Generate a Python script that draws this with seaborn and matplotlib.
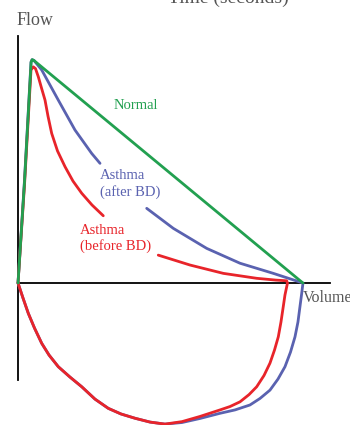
import pandas as pd
import seaborn as sns
import matplotlib.pyplot as plt

# Flow-volume loops (volume in litres, flow in L/s).
# 'part' splits a curve where the picture leaves it broken behind a label.
normal_vol = [0, 0.114, 0.23, 0.25, 0.28, 5.0]
normal_flow = [0, 4.5, 9.82, 9.93, 9.89, 0]

# shared inspiratory left half (both asthma loops), from the bottom back to 0
insp_left_vol = [2.579, 2.316, 2.053, 1.807, 1.584, 1.351, 1.118, 0.912, 0.707, 0.544, 0.416, 0.289, 0.181,
                 0.088, 0]
insp_left_flow = [-6.27, -6.18, -6.01, -5.82, -5.57, -5.16, -4.61, -4.18, -3.72, -3.2, -2.68, -2.0, -1.35,
                  -0.67, 0]

after_top_vol = [0, 0.114, 0.228, 0.246, 0.281, 0.416, 0.707, 1.0, 1.293, 1.439]
after_top_flow = [0, 4.58, 9.82, 9.93, 9.89, 9.47, 8.13, 6.8, 5.76, 5.32]
after_rest_vol = [2.258, 2.725, 3.311, 3.895, 4.479, 5.0,
                  4.974, 4.947, 4.912, 4.86, 4.781, 4.684, 4.561, 4.421, 4.246, 4.07, 3.807, 3.544, 3.193,
                  2.877]
after_rest_flow = [3.32, 2.43, 1.54, 0.88, 0.43, 0.0,
                   -0.53, -1.05, -1.73, -2.39, -3.07, -3.72, -4.27, -4.76, -5.13, -5.42, -5.64, -5.79, -6.02,
                   -6.2]

before_top_vol = [0, 0.114, 0.228, 0.268, 0.307, 0.356, 0.412, 0.474, 0.526, 0.591, 0.693, 0.825, 0.965,
                  1.118, 1.298, 1.496]
before_top_flow = [0, 4.36, 9.47, 9.61, 9.53, 9.17, 8.67, 8.13, 7.42, 6.65, 5.87, 5.17, 4.53,
                   3.99, 3.47, 2.99]
before_rest_vol = [2.461, 3.018, 3.602, 4.188, 4.526, 4.714, 4.728,
                   4.684, 4.654, 4.614, 4.567, 4.5, 4.421, 4.316, 4.188, 4.053, 3.895, 3.719, 3.544, 3.193,
                   2.877]
before_rest_flow = [1.24, 0.8, 0.43, 0.21, 0.13, 0.1, 0.0,
                    -0.53, -1.05, -1.73, -2.39, -2.98, -3.56, -4.11, -4.61, -4.96, -5.28, -5.49, -5.64, -5.93,
                    -6.16]

green = '#22a050'
blue = '#5a62b0'
red = '#e8242a'


def loop_frame(top_vol, top_flow, rest_vol, rest_flow):
    vol = top_vol + rest_vol + insp_left_vol
    flow = top_flow + rest_flow + insp_left_flow
    part = [0] * len(top_vol) + [1] * (len(rest_vol) + len(insp_left_vol))
    return pd.DataFrame({'vol': vol, 'flow': flow, 'part': part})


df_after = loop_frame(after_top_vol, after_top_flow, after_rest_vol, after_rest_flow)
df_before = loop_frame(before_top_vol, before_top_flow, before_rest_vol, before_rest_flow)
df_normal = pd.DataFrame({'vol': normal_vol, 'flow': normal_flow})

sns.set_style('white')
plt.rcParams['font.family'] = ['Liberation Serif', 'DejaVu Serif']

fig = plt.figure(figsize=(3.5, 4.25), dpi=100)
ax = fig.add_axes([0, 0, 1, 1])

sns.lineplot(data=df_after, x='vol', y='flow', units='part', sort=False, estimator=None,
             color=blue, lw=2.0, ax=ax, zorder=2)
sns.lineplot(data=df_before, x='vol', y='flow', units='part', sort=False, estimator=None,
             color=red, lw=2.0, ax=ax, zorder=3)
sns.lineplot(data=df_normal, x='vol', y='flow', sort=False, estimator=None,
             color=green, lw=2.0, ax=ax, zorder=4)

ax.set_xlim(-0.316, 5.825)
ax.set_ylim(-6.31, 12.58)
ax.set_xlabel('')
ax.set_ylabel('')
ax.set_xticks([])
ax.set_yticks([])

# axes through the origin
for s in ['top', 'right']:
    ax.spines[s].set_visible(False)
ax.spines['left'].set_position(('data', 0))
ax.spines['bottom'].set_position(('data', 0))
ax.spines['left'].set_bounds(-4.31, 10.98)
ax.spines['bottom'].set_bounds(0, 5.47)
for s in ['left', 'bottom']:
    ax.spines[s].set_color('black')
    ax.spines[s].set_linewidth(1.3)
    ax.spines[s].set_zorder(1)

ax.text(2.06, 7.87, 'Normal', color=green, fontsize=10.5, ha='center', va='center')
ax.text(1.44, 4.4, 'Asthma\n(after BD)', color=blue, fontsize=10.5, ha='left', va='center',
        linespacing=1.2)
ax.text(1.09, 1.96, 'Asthma\n(before BD)', color=red, fontsize=10.5, ha='left', va='center',
        linespacing=1.2)

fig.text(17 / 350, 1 - 25 / 425, 'Flow', color='#555555', fontsize=13, ha='left', va='baseline')
fig.text(303 / 350, 1 - 302 / 425, 'Volume', color='#555555', fontsize=11.5, ha='left', va='baseline')
fig.text(228 / 350, 1 - 3 / 425, 'Time (seconds)', color='#555555', fontsize=14, ha='center', va='baseline')

fig.savefig('out.png', dpi=100)
